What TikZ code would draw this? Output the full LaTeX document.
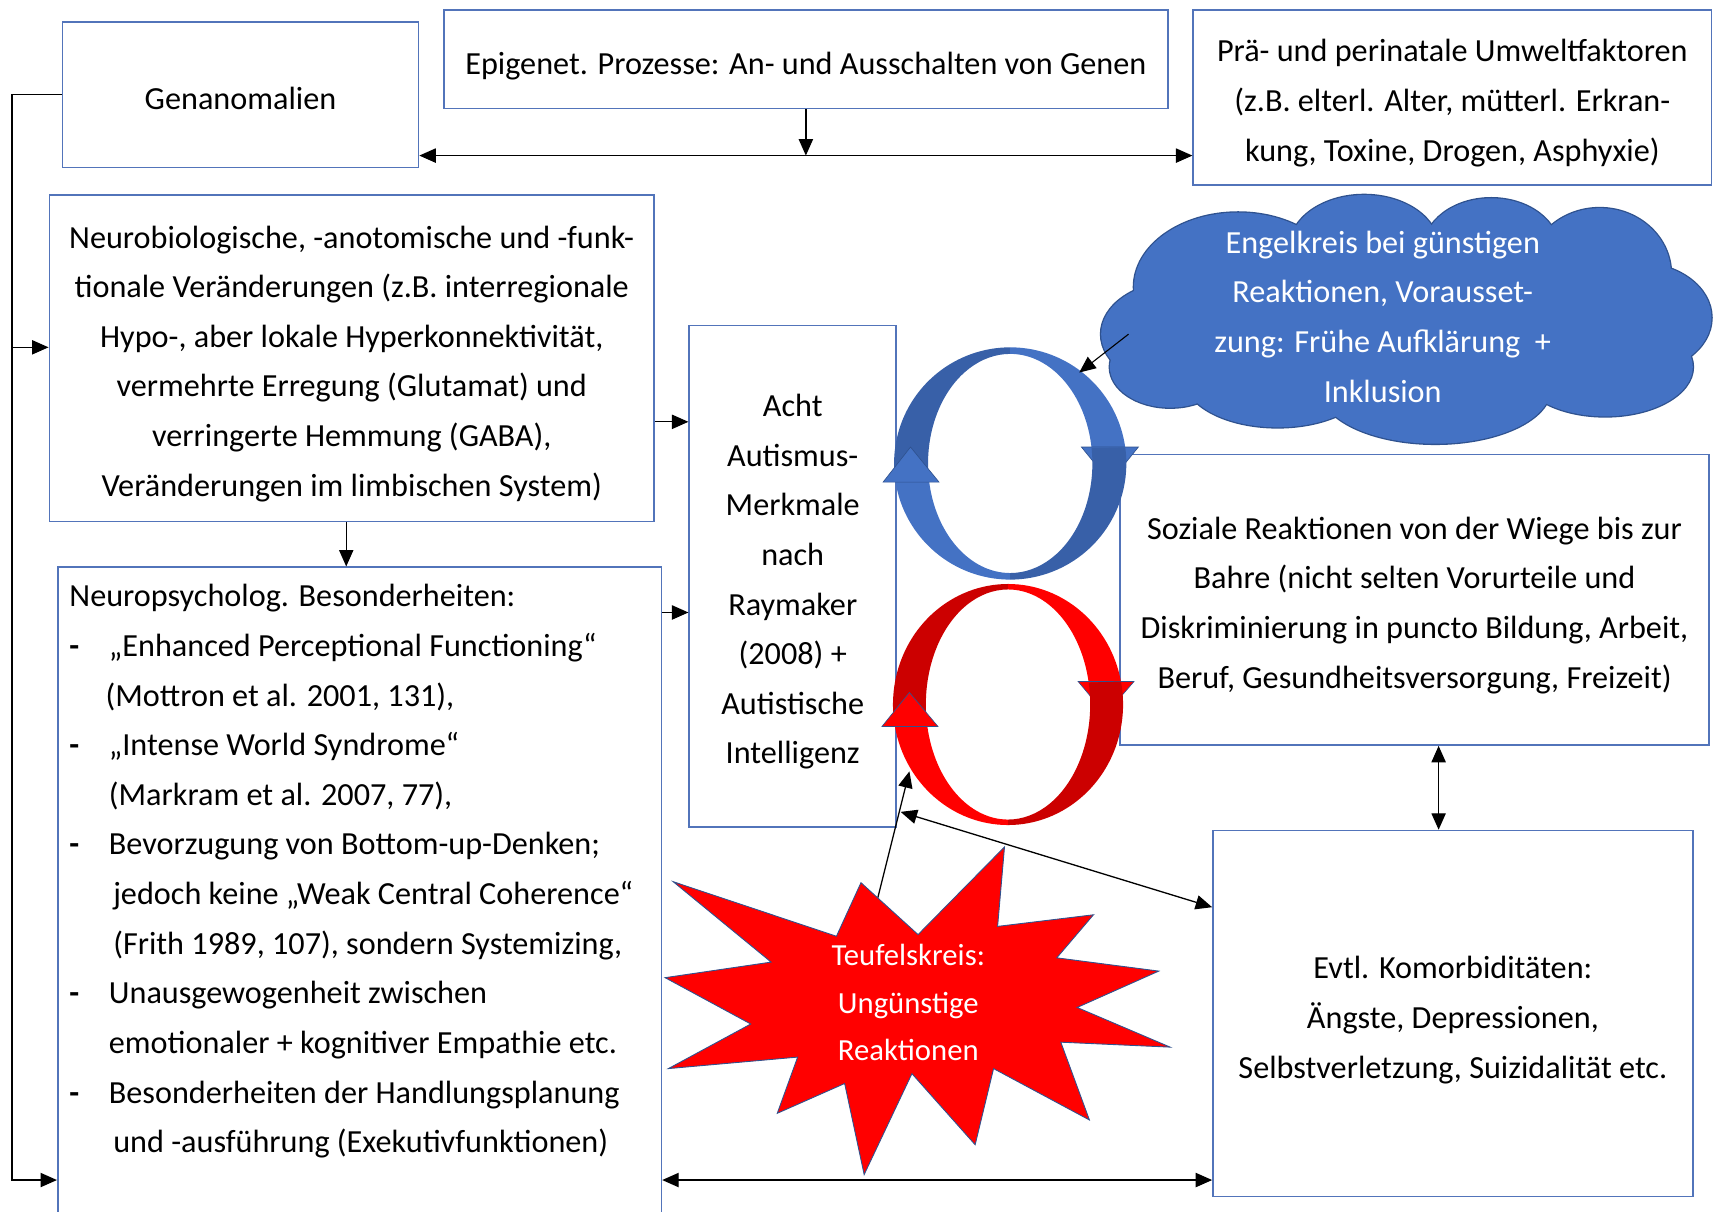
\documentclass[tikz,border=0pt]{standalone}
\usepackage{fontspec}
\setmainfont{Carlito}
\usetikzlibrary{arrows.meta,calc}
\definecolor{bordercol}{RGB}{82,116,186}
\definecolor{bluelight}{HTML}{4472C4}
\definecolor{bluedark}{HTML}{3860A8}
\definecolor{redlight}{HTML}{FF0000}
\definecolor{reddark}{HTML}{CC0000}
\definecolor{outl}{HTML}{2F528F}
\newcommand{\fs}{\fontsize{14.7pt}{22.65pt}\selectfont}
\newcommand{\bul}{\makebox[18pt][l]{\textbf{-}}}
% band segment: center, angle a, angle b, outer rx, outer ry, inner rx, inner ry, colour
\newcommand{\band}[8]{%
  \fill[#8] ([shift={#1}]#2:#4 and #5) arc[start angle=#2,end angle=#3,x radius=#4,y radius=#5]
    -- ([shift={#1}]#3:#6 and #7) arc[start angle=#3,end angle=#2,x radius=#6,y radius=#7] -- cycle;}
\begin{document}
\begin{tikzpicture}[x=0.5pt,y=-0.5pt,
  box/.style={draw=bordercol,line width=0.7pt,inner sep=0pt},
  txt/.style={inner sep=0pt,align=center,font=\fs},
  conn/.style={line width=0.6pt,-{Triangle[length=7.5pt,width=6.5pt]}},
  dconn/.style={line width=0.6pt,{Triangle[length=7.5pt,width=6.5pt]}-{Triangle[length=7.5pt,width=6.5pt]}},
  ahead/.style={draw=outl,line width=0.3pt,line join=miter}]
\useasboundingbox (0,0) rectangle (1568,1106);
\clip (0,0) rectangle (1568,1106);

% boxes
\node[box,minimum width=162.5pt,minimum height=66.5pt] (gen) at (219.5,86.5) {};
\node[txt] (gen-t) at ([yshift=-1.5pt]gen.center) {Genanomalien};
\node[box,minimum width=330.5pt,minimum height=45pt] (epi) at (735.5,54) {};
\node[txt] (epi-t) at ([yshift=-3pt]epi.center) {Epigenet. Prozesse: An- und Ausschalten von Genen};
\node[box,minimum width=236.5pt,minimum height=80pt] (pra) at (1325.5,89) {};
\node[txt] (pra-t) at ([yshift=-2.5pt]pra.center) {Prä- und perinatale Umweltfaktoren\\(z.B. elterl. Alter, mütterl. Erkran-\\kung, Toxine, Drogen, Asphyxie)};
\node[box,minimum width=276pt,minimum height=149pt] (neuro) at (321,327) {};
\node[txt] (neuro-t) at ([yshift=-2.5pt]neuro.center) {Neurobiologische, -anotomische und -funk-\\tionale Veränderungen (z.B. interregionale\\Hypo-, aber lokale Hyperkonnektivität,\\vermehrte Erregung (Glutamat) und\\verringerte Hemmung (GABA),\\Veränderungen im limbischen System)};
\node[box,minimum width=275.5pt,minimum height=300pt,anchor=north west] (npsy) at (52,517) {};
\node[txt,align=left,anchor=north west] (npsy-t) at (63,533) {Neuropsycholog. Besonderheiten:\\
\bul„Enhanced Perceptional Functioning“\\
\hspace*{16.5pt}(Mottron et al. 2001, 131),\\
\bul„Intense World Syndrome“\\
\hspace*{18pt}(Markram et al. 2007, 77),\\
\bul Bevorzugung von Bottom-up-Denken;\\
\hspace*{20pt}jedoch keine „Weak Central Coherence“\\
\hspace*{20pt}(Frith 1989, 107), sondern Systemizing,\\
\bul Unausgewogenheit zwischen\\
\hspace*{18pt}emotionaler + kognitiver Empathie etc.\\
\bul Besonderheiten der Handlungsplanung\\
\hspace*{20pt}und -ausführung (Exekutivfunktionen)};
\node[box,minimum width=94.5pt,minimum height=229pt] (acht) at (723.5,526) {};
\node[txt] (acht-t) at ([yshift=-2.5pt]acht.center) {Acht\\Autismus-\\Merkmale\\nach\\Raymaker\\(2008) +\\Autistische\\Intelligenz};
\node[box,minimum width=269pt,minimum height=132.5pt] (soz) at (1291,547.5) {};
\node[txt] (soz-t) at ([yshift=-2.5pt]soz.center) {Soziale Reaktionen von der Wiege bis zur\\Bahre (nicht selten Vorurteile und\\Diskriminierung in puncto Bildung, Arbeit,\\Beruf, Gesundheitsversorgung, Freizeit)};
\node[box,minimum width=219pt,minimum height=167pt] (evtl) at (1326,925) {};
\node[txt] (evtl-t) at ([yshift=-3pt]evtl.center) {Evtl. Komorbiditäten:\\Ängste, Depressionen,\\Selbstverletzung, Suizidalität etc.};

% helper coordinates
\coordinate (hy) at (0,142);
\coordinate (lx) at (11,0);
\coordinate (by) at (0,1077);
\coordinate (ny) at (0,317);
\coordinate (ay1) at (0,385);
\coordinate (ay2) at (0,559);
\coordinate (dx) at (316,0);
\coordinate (vx) at (1313,0);
\coordinate (ky) at (0,828);

% connectors
\draw[dconn] (gen.east |- hy) -- (pra.west |- hy);
\draw[conn] (epi.south) -- (epi.south |- hy);
\draw[conn] (gen.west) -- (gen.west -| lx) -- (lx |- by) -- (npsy.west |- by);
\draw[conn] (lx |- ny) -- (neuro.west |- ny);
\draw[conn] (neuro.east |- ay1) -- (acht.west |- ay1);
\draw[conn] (npsy.east |- ay2) -- (acht.west |- ay2);
\draw[conn] (neuro.south -| dx) -- (npsy.north -| dx);
\draw[dconn] (soz.south -| vx) -- (evtl.north -| vx);
\draw[dconn] (npsy.east |- by) -- (evtl.west |- by);

% cloud (union of lobes)
\def\lobes{1283/295/220/80, 1075/305/70/48, 1130/262/95/68, 1245/226/68/48, 1361/228/62/47,
  1460/250/65/60, 1495/290/67/50, 1465/335/80/45, 1310/355/105/50, 1166/345/85/45, 1068/335/55/37}
\foreach \cx/\cy/\rx/\ry in \lobes {\filldraw[fill=bluelight,draw=outl,line width=1.2pt] (\cx,\cy) ellipse[x radius=\rx,y radius=\ry];}
\foreach \cx/\cy/\rx/\ry in \lobes {\fill[bluelight] (\cx,\cy) ellipse[x radius=\rx,y radius=\ry];}
\node[txt,text=white] (cloud-t) at (1262,289) {Engelkreis bei günstigen\\Reaktionen, Vorausset-\\zung: Frühe Aufklärung~ +\\Inklusion};

% blue loop
\coordinate (bc) at (922,423);
\band{(922,423)}{171}{270}{106}{106}{75}{100}{bluedark}
\band{(922,423)}{90}{171}{106}{106}{75}{100}{bluelight}
\band{(922,423)}{270}{352}{106}{106}{75}{100}{bluelight}
\filldraw[fill=bluelight,ahead] (987,408) -- (1039,408) -- (1013,440) -- cycle;
\band{(922,423)}{352}{450}{106}{106}{75}{100}{bluedark}
\filldraw[fill=bluelight,ahead] (806,440) -- (857,440) -- (831,408) -- cycle;

% red loop
\coordinate (rc) at (920,643);
\band{(920,643)}{169.5}{270}{105}{110}{75}{105}{reddark}
\band{(920,643)}{90}{169.5}{105}{110}{75}{105}{redlight}
\band{(920,643)}{270}{349}{105}{110}{75}{105}{redlight}
\filldraw[fill=redlight,ahead] (984,622) -- (1035,622) -- (1009,652) -- cycle;
\band{(920,643)}{349}{450}{105}{110}{75}{105}{reddark}
\filldraw[fill=redlight,ahead] (805,663) -- (856,663) -- (830,632) -- cycle;

% cloud to blue loop
\coordinate (cl1) at (1030,305);
\coordinate (bl1) at (985,340);
\draw[line width=0.5pt,-{Triangle[length=7.5pt,width=6.5pt]}] (cl1) -- (bl1);

% star connectors
\coordinate (st1) at (800,824);
\coordinate (rl1) at (830,704);
\coordinate (ac1) at (822,741);
\draw[conn] (st1) -- (rl1);
\draw[dconn] (ac1) -- (evtl.west |- ky);

% star
\filldraw[fill=redlight,draw=outl,line width=0.4pt,line join=miter]
 (916.8,773) -- (910.5,845.5) -- (998,834.9) -- (964.5,874.2) -- (1057.6,886.3) -- (983.1,919.5)
 -- (1068,955.7) -- (968.2,951.2) -- (994.3,1022.2) -- (906.8,975.3) -- (890,1044.8) -- (832.3,979.9)
 -- (788.7,1072) -- (770.9,988.9) -- (709.4,1016.1) -- (728,964.8) -- (610,975.3) -- (685.2,934.6)
 -- (607,892.3) -- (703.8,878.1) -- (614.4,804.7) -- (763.4,854.5) -- (785.8,805.6) -- (837.9,853) -- cycle;
\node[font=\fontsize{14pt}{21.5pt}\selectfont,align=center,text=white,inner sep=0pt] (teufel) at (829,915) {Teufelskreis:\\Ungünstige\\Reaktionen};
\end{tikzpicture}
\end{document}
